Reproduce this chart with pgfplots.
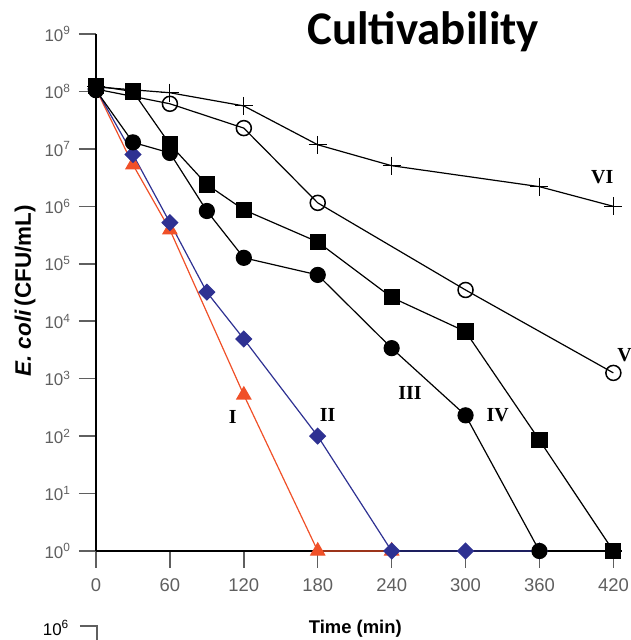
\documentclass[border=0pt]{standalone}
\usepackage{fontspec}
\setmainfont{Liberation Sans}
\newfontfamily\titlefont{Carlito}
\newfontfamily\romfont{Liberation Serif}
\usepackage{pgfplots}
\pgfplotsset{compat=1.18}
\definecolor{redI}{RGB}{240,80,40}
\definecolor{blueII}{RGB}{46,49,146}
\definecolor{tickgray}{RGB}{95,95,95}

\newcommand{\rn}{\romfont\bfseries\fontsize{20}{20}\selectfont}

\begin{document}
\begin{tikzpicture}
\path[use as bounding box] (-96bp,-89bp) rectangle (535bp,551bp);
\begin{axis}[
  at={(0,0)}, anchor=south west,
  scale only axis, width=526bp, height=517bp,
  xmin=0, xmax=427,
  ymode=log, log basis y=10, ymin=1, ymax=1e9,
  axis x line*=bottom, axis y line*=left,
  axis line style={black, line width=1.2bp, -},
  tick align=outside, major tick length=17bp,
  tick style={tickgray, line width=1.5bp},
  minor tick num=0, yminorticks=false,
  xtick={0,60,120,180,240,300,360,420},
  ytick={1,10,100,1e3,1e4,1e5,1e6,1e7,1e8,1e9},
  yticklabels={10\textsuperscript{0},10\textsuperscript{1},10\textsuperscript{2},10\textsuperscript{3},10\textsuperscript{4},10\textsuperscript{5},10\textsuperscript{6},10\textsuperscript{7},10\textsuperscript{8},10\textsuperscript{9}},
  xticklabel style={font=\fontsize{18.5}{18.5}\selectfont, text=tickgray, yshift=-7bp},
  yticklabel style={font=\fontsize{17}{17}\selectfont, text=tickgray, xshift=-5bp},
  xticklabel={\pgfmathprintnumber[assume math mode=true]{\tick}},
  xlabel={\textbf{Time (min)}},
  xlabel style={font=\fontsize{18.5}{18.5}\selectfont, at={(axis description cs:0.493,-0.151)}, anchor=center},
  ylabel={\textbf{\textit{E. coli}\,(CFU/mL)}},
  ylabel style={font=\fontsize{22.5}{22.5}\selectfont, at={(axis description cs:-0.135,0.503)}, anchor=center},
  clip=false,
]
% I
\addplot[redI, line width=1.2bp, mark=triangle*, mark size=8bp, mark options={fill=redI, draw=redI}]
  coordinates {(0,1.1e8)(30,5.3e6)(60,3.9e5)(120,5.2e2)(180,1)(240,1)};
% II
\addplot[blueII, line width=1.2bp, mark=square*, mark size=5.5bp, mark options={fill=blueII, draw=blueII, rotate=45}]
  coordinates {(0,1.1e8)(30,8e6)(60,5.2e5)(90,3.2e4)(120,4.9e3)(180,1e2)(240,1)(300,1)(360,1)};
% VI
\addplot[black, line width=1.2bp, mark=+, mark size=9bp, mark options={line width=0.9bp}]
  coordinates {(0,1.2e8)(60,9.5e7)(120,5.6e7)(180,1.18e7)(240,5.1e6)(360,2.2e6)(420,1.0e6)};
% V
\addplot[black, line width=1.2bp, mark=o, mark size=7.5bp, mark options={line width=1.5bp, fill=white}]
  coordinates {(0,1.1e8)(60,6.1e7)(120,2.3e7)(180,1.15e6)(300,3.5e4)(420,1.26e3)};
% III
\addplot[black, line width=1.2bp, mark=*, mark size=7.5bp]
  coordinates {(0,1.05e8)(30,1.3e7)(60,8.5e6)(90,8.3e5)(120,1.27e5)(180,6.4e4)(240,3.4e3)(300,2.3e2)(360,1)};
% IV
\addplot[black, line width=1.2bp, mark=square*, mark size=7.5bp]
  coordinates {(0,1.25e8)(30,1e8)(60,1.2e7)(90,2.4e6)(120,8.7e5)(180,2.4e5)(240,2.6e4)(300,6.6e3)(360,85)(420,1)};

\node[font=\rn] at (axis cs:111,214) {I};
\node[font=\rn] at (axis cs:188,234) {II};
\node[font=\rn] at (axis cs:255,562) {III};
\node[font=\rn] at (axis cs:326,234) {IV};
\node[font=\rn] at (axis cs:429,2570) {V};
\node[font=\rn] at (axis cs:411,3.2e6) {VI};

\node[font=\titlefont\bfseries\fontsize{47}{47}\selectfont, anchor=base] at (axis description cs:0.622,0.979) {Cultivability};
\end{axis}
\draw[line width=1.3bp, tickgray] (-16bp,-75bp) -- (1bp,-75bp) -- (1bp,-89bp);
\node[font=\fontsize{17}{17}\selectfont, anchor=base east, inner sep=0pt] at (-27bp,-84bp) {10\textsuperscript{6}};
\end{tikzpicture}
\end{document}
